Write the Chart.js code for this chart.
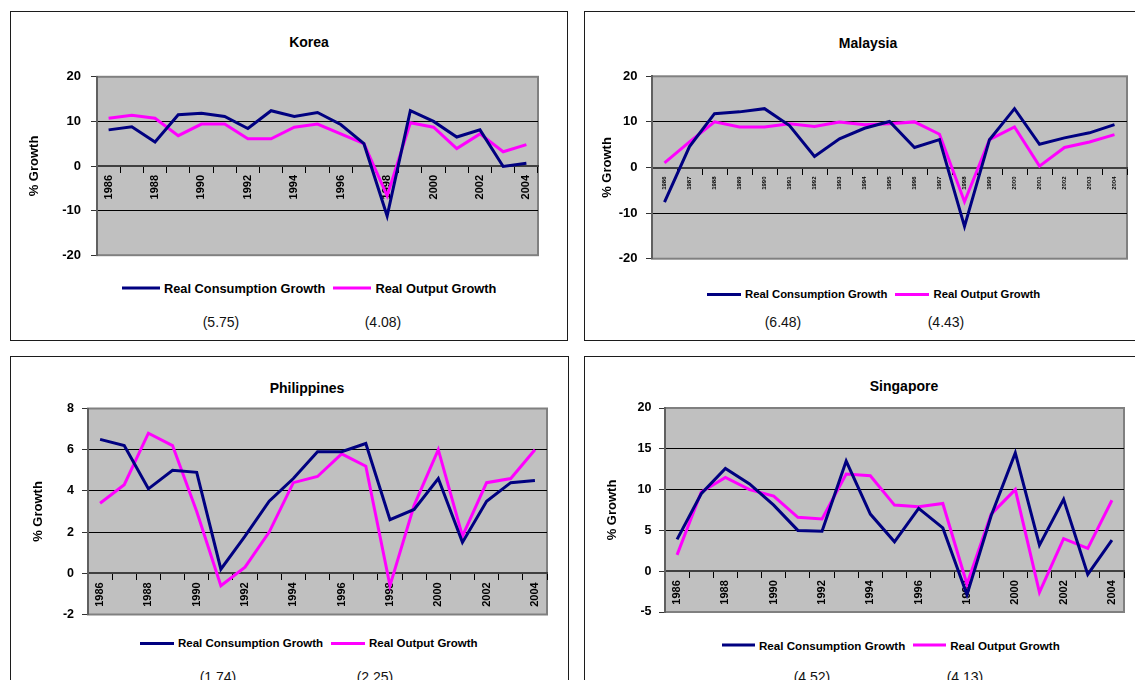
<!DOCTYPE html>
<html>
<head>
<meta charset="utf-8">
<script src="https://cdn.jsdelivr.net/npm/chart.js@4.4.1/dist/chart.umd.min.js"></script>
<style>
  html, body { margin: 0; padding: 0; background: #fff; }
  body { width: 1135px; height: 680px; overflow: hidden; position: relative;
         font-family: "Liberation Sans", Arial, sans-serif; }
  .panel { position: absolute; box-sizing: border-box; border: 1.5px solid #1c1c1c; background: #fff; }
  canvas { position: absolute; }
  .title { position: absolute; font-weight: bold; font-size: 14px; white-space: nowrap;
           transform: translate(-50%, -50%); color: #000; }
  .legend { position: absolute; display: flex; align-items: center; font-weight: bold;
            white-space: nowrap; transform: translateY(-50%); color: #000; }
  .swatch { display: inline-block; height: 3px; }
  .stat { position: absolute; font-size: 14px; white-space: nowrap; transform: translate(-50%, -50%); color: #111; }
</style>
</head>
<body>
<script>
// Annual growth rates (%), 1986-2004
const years = ['1986', '1987', '1988', '1989', '1990', '1991', '1992', '1993', '1994', '1995',
               '1996', '1997', '1998', '1999', '2000', '2001', '2002', '2003', '2004'];
const everyOtherYear = ['1986', '', '1988', '', '1990', '', '1992', '', '1994', '', '1996', '',
                        '1998', '', '2000', '', '2002', '', '2004'];
const seriesNames = ['Real Consumption Growth', 'Real Output Growth'];

const koreaConsumption = [8.1, 8.8, 5.4, 11.5, 11.8, 11.1, 8.4, 12.4, 11.1, 12.0, 9.3, 5.0, -11.2, 12.4, 10.0, 6.5, 8.1, -0.1, 0.6];
const koreaOutput      = [10.7, 11.4, 10.7, 6.8, 9.4, 9.4, 6.1, 6.1, 8.7, 9.4, 7.2, 5.0, -6.7, 9.7, 8.7, 3.9, 7.2, 3.2, 4.8];
const koreaStats = ['(5.75)', '(4.08)'];

const malaysiaConsumption = [-7.6, 4.6, 11.8, 12.2, 12.9, 9.2, 2.4, 6.3, 8.6, 10.1, 4.4, 6.1, -12.9, 6.1, 12.9, 5.1, 6.5, 7.6, 9.4];
const malaysiaOutput      = [1.0, 5.6, 10.0, 8.9, 8.9, 9.6, 9.0, 10.0, 9.4, 9.6, 10.0, 7.3, -7.5, 6.1, 8.9, 0.3, 4.4, 5.6, 7.2];
const malaysiaStats = ['(6.48)', '(4.43)'];

const philippinesConsumption = [6.5, 6.2, 4.1, 5.0, 4.9, 0.2, 1.8, 3.5, 4.6, 5.9, 5.9, 6.3, 2.6, 3.1, 4.6, 1.5, 3.5, 4.4, 4.5];
const philippinesOutput      = [3.4, 4.3, 6.8, 6.2, 3.0, -0.6, 0.3, 2.0, 4.4, 4.7, 5.8, 5.2, -0.6, 3.3, 6.0, 1.8, 4.4, 4.6, 6.0];
const philippinesStats = ['(1.74)', '(2.25)'];

const singaporeConsumption = [3.9, 9.5, 12.6, 10.7, 8.1, 5.0, 4.9, 13.5, 7.0, 3.6, 7.7, 5.3, -2.9, 6.8, 14.5, 3.2, 8.8, -0.4, 3.8];
const singaporeOutput      = [2.0, 9.7, 11.5, 10.0, 9.2, 6.6, 6.4, 11.9, 11.7, 8.1, 7.9, 8.3, -1.6, 7.0, 10.0, -2.6, 4.0, 2.8, 8.7];
const singaporeStats = ['(4.52)', '(4.13)'];

const NAVY = '#000080';
const MAGENTA = '#FF00FF';
const FONT = "'Liberation Sans', Arial, sans-serif";

// Grey plot area with a mid-grey frame, painted before scales and lines
const plotBackground = {
  id: 'plotBackground',
  beforeDraw(chart) {
    const { ctx, chartArea: a } = chart;
    ctx.save();
    ctx.fillStyle = '#C0C0C0';
    ctx.fillRect(a.left, a.top, a.right - a.left, a.bottom - a.top);
    ctx.strokeStyle = '#808080';
    ctx.lineWidth = 2;
    ctx.strokeRect(a.left, a.top, a.right - a.left, a.bottom - a.top);
    ctx.restore();
  }
};

// Layout of the four panels (page pixels)
const panels = [
  { name: 'Korea', frame: [10, 11, 558, 330], plot: [97, 73, 538, 259],
    consumption: koreaConsumption, output: koreaOutput, stats: koreaStats,
    yMin: -20, yMax: 20, yStep: 10, xTicks: everyOtherYear, xFont: 11, yFont: 13, labelPad: 10,
    axisTitleX: 34, titleAt: [309, 42], legendAt: [122, 288], legendFont: 12.8, swatch: 38,
    statX: [221, 383], statY: 322 },
  { name: 'Malaysia', frame: [584, 11, 560, 330], plot: [652, 74, 1127, 261],
    consumption: malaysiaConsumption, output: malaysiaOutput, stats: malaysiaStats,
    yMin: -20, yMax: 20, yStep: 10, xTicks: years, xFont: 6, yFont: 13, labelPad: 8.5,
    axisTitleX: 607, titleAt: [868, 43], legendAt: [707, 294], legendFont: 11.3, swatch: 34,
    statX: [783, 946], statY: 322 },
  { name: 'Philippines', frame: [10, 356, 559, 340], plot: [88, 407, 547, 616],
    consumption: philippinesConsumption, output: philippinesOutput, stats: philippinesStats,
    yMin: -2, yMax: 8, yStep: 2, xTicks: everyOtherYear, xFont: 11, yFont: 12.5, labelPad: 8,
    axisTitleX: 38, titleAt: [307, 388], legendAt: [140, 643], legendFont: 11.5, swatch: 34,
    statX: [218, 375], statY: 677 },
  { name: 'Singapore', frame: [584, 356, 560, 340], plot: [665, 407, 1124, 613],
    consumption: singaporeConsumption, output: singaporeOutput, stats: singaporeStats,
    yMin: -5, yMax: 20, yStep: 5, xTicks: everyOtherYear, xFont: 11, yFont: 12.5, labelPad: 7.5,
    axisTitleX: 612, titleAt: [904, 386], legendAt: [722, 645], legendFont: 11.6, swatch: 33,
    statX: [812, 965], statY: 677 }
];

function place(el, x, y, w, h) {
  el.style.left = x + 'px';
  el.style.top = y + 'px';
  if (w !== undefined) el.style.width = w + 'px';
  if (h !== undefined) el.style.height = h + 'px';
}

panels.forEach(p => {
  const frame = document.createElement('div');
  frame.className = 'panel';
  place(frame, ...p.frame);
  document.body.appendChild(frame);

  const title = document.createElement('div');
  title.className = 'title';
  title.textContent = p.name;
  place(title, p.titleAt[0], p.titleAt[1]);
  document.body.appendChild(title);

  const [l, t, r, b] = p.plot;
  const cx = p.frame[0] + 2;
  const cy = t - 14;
  const cw = Math.min(r + 8, 1135) - cx;
  const ch = b + 14 - cy;
  const canvas = document.createElement('canvas');
  canvas.width = cw;
  canvas.height = ch;
  place(canvas, cx, cy, cw, ch);
  document.body.appendChild(canvas);

  const axisTitleSize = 13;
  const chart = new Chart(canvas, {
    type: 'line',
    data: {
      labels: years,
      datasets: [
        { label: seriesNames[0], data: p.consumption, borderColor: NAVY, backgroundColor: NAVY,
          borderWidth: 3, pointRadius: 0, tension: 0 },
        { label: seriesNames[1], data: p.output, borderColor: MAGENTA, backgroundColor: MAGENTA,
          borderWidth: 3, pointRadius: 0, tension: 0 }
      ]
    },
    options: {
      responsive: false,
      animation: false,
      devicePixelRatio: 1,
      layout: { padding: { left: 0, top: t - cy, right: cx + cw - r, bottom: cy + ch - b } },
      plugins: { legend: { display: false }, title: { display: false }, tooltip: { enabled: false } },
      scales: {
        x: {
          type: 'category',
          position: { y: 0 },
          offset: true,
          grid: { offset: true, drawOnChartArea: false, drawTicks: true, tickLength: 6,
                  tickColor: '#000', color: '#000', tickWidth: 1 },
          border: { display: true, color: '#404040', width: 2 },
          ticks: { autoSkip: false, minRotation: 90, maxRotation: 90, padding: 3, color: '#000',
                   font: { family: FONT, weight: 'bold', size: p.xFont },
                   callback: (v, i) => p.xTicks[i] },
          afterFit(scale) { scale.height = 0; }
        },
        y: {
          min: p.yMin, max: p.yMax,
          ticks: { stepSize: p.yStep, padding: p.labelPad, color: '#000',
                   font: { family: FONT, weight: 'bold', size: p.yFont } },
          grid: {
            color: c => {
              const v = c.tick ? c.tick.value : null;
              return (v !== null && v > p.yMin && v < p.yMax && v !== 0) ? '#000' : 'rgba(0,0,0,0)';
            },
            lineWidth: 1, tickColor: '#333', tickLength: 6, drawTicks: true
          },
          border: { display: true, color: '#606060', width: 2 },
          title: { display: true, text: '% Growth', color: '#000',
                   font: { family: FONT, weight: 'bold', size: axisTitleSize },
                   padding: { top: p.axisTitleX - cx - axisTitleSize * 0.6, bottom: 0 } },
          afterFit(scale) { scale.width = l - cx; }
        }
      }
    },
    plugins: [plotBackground]
  });

  // Legend row built from the chart's datasets
  const legend = document.createElement('div');
  legend.className = 'legend';
  legend.style.fontSize = p.legendFont + 'px';
  place(legend, p.legendAt[0], p.legendAt[1]);
  chart.data.datasets.forEach((ds, i) => {
    const sw = document.createElement('span');
    sw.className = 'swatch';
    sw.style.width = p.swatch + 'px';
    sw.style.background = ds.borderColor;
    sw.style.marginLeft = i === 0 ? '0' : '8px';
    sw.style.marginRight = '4px';
    const txt = document.createElement('span');
    txt.textContent = ds.label;
    legend.appendChild(sw);
    legend.appendChild(txt);
  });
  document.body.appendChild(legend);

  p.stats.forEach((s, i) => {
    const el = document.createElement('div');
    el.className = 'stat';
    el.textContent = s;
    place(el, p.statX[i], p.statY);
    document.body.appendChild(el);
  });
});
</script>
</body>
</html>
